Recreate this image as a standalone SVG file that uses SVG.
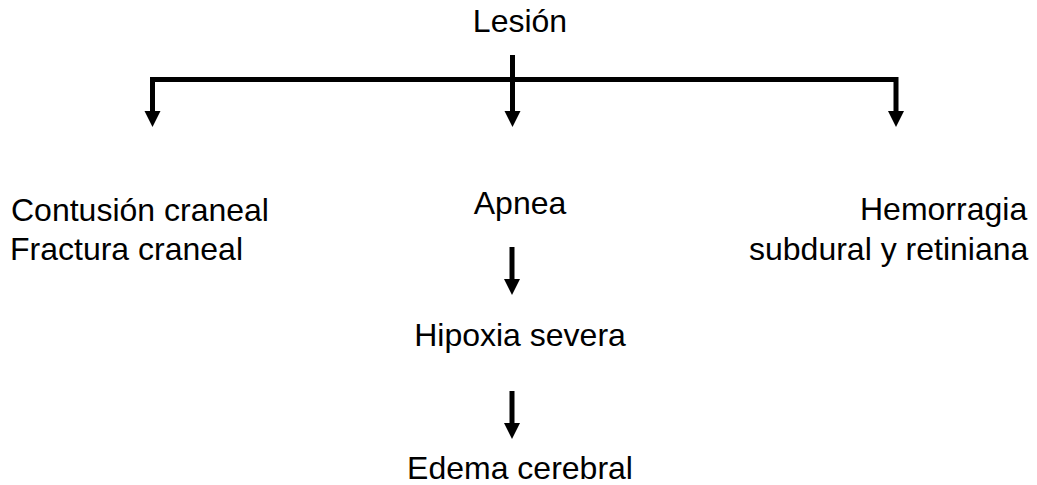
<svg xmlns="http://www.w3.org/2000/svg" width="1037" height="485" viewBox="0 0 1037 485">
<style>
text{font-family:"Liberation Sans",Arial,sans-serif;font-size:32px;fill:#000}
.c{fill:none;stroke:#000;stroke-width:5}
.h{fill:#000}
</style>
<rect width="1037" height="485" fill="#fff"/>
<g id="connectors">
<path class="c" d="M152.5,112 V79.5 H896 V112"/>
<line class="c" x1="512.5" y1="55" x2="512.5" y2="112"/>
<line class="c" x1="512" y1="247" x2="512" y2="280"/>
<line class="c" x1="512" y1="391" x2="512" y2="424"/>
<path class="h" d="M144.5,111 H160.5 L152.5,127 Z"/>
<path class="h" d="M504.5,111 H520.5 L512.5,127 Z"/>
<path class="h" d="M888,111 H904 L896,127 Z"/>
<path class="h" d="M504,279 H520 L512,295 Z"/>
<path class="h" d="M504,423 H520 L512,439 Z"/>
</g>
<g id="lesion"><text x="520" y="32" text-anchor="middle">Lesión</text></g>
<g id="contusion"><text x="11" y="221">Contusión craneal</text><text x="10" y="260">Fractura craneal</text></g>
<g id="apnea"><text x="520" y="214" text-anchor="middle">Apnea</text></g>
<g id="hemorragia"><text x="860" y="220">Hemorragia</text><text x="749" y="260">subdural y retiniana</text></g>
<g id="hipoxia"><text x="520" y="346" text-anchor="middle">Hipoxia severa</text></g>
<g id="edema"><text x="520" y="479" text-anchor="middle">Edema cerebral</text></g>
</svg>
